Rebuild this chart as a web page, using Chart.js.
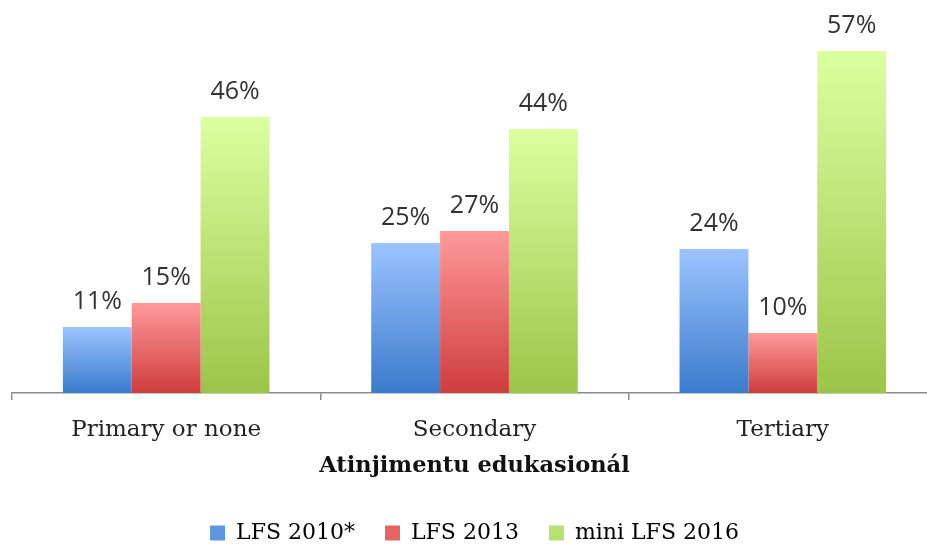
<!DOCTYPE html>
<html>
<head>
<meta charset="utf-8">
<script src="https://cdn.jsdelivr.net/npm/chart.js@4"></script>
<style>
  html, body { margin: 0; padding: 0; background: #fff; overflow: hidden; }
  #wrap { width: 960px; height: 544px; }
</style>
</head>
<body>
<div id="wrap"><canvas id="grafico" width="960" height="544"></canvas></div>
<script>
// ── DATOS ─────────────────────────────────────────────────────────────────────
var categorias = ['Primary or none', 'Secondary', 'Tertiary'];
var series     = ['LFS 2010*', 'LFS 2013', 'mini LFS 2016'];
var lfs2010    = [11, 25, 24];
var lfs2013    = [15, 27, 10];
var mini2016   = [46, 44, 57];
var tituloX    = 'Atinjimentu edukasionál';

// colores [arriba, abajo, leyenda]
var colores = [
  ['#9cc4ff', '#3a7bcc', '#5d95e0'],
  ['#ff9a9a', '#cf3c3c', '#e86464'],
  ['#dcffa0', '#9bc548', '#b6e070']
];

var SERIF = '"DejaVu Serif", serif';
var SANS  = '"Open Sans", sans-serif';

// ── DEGRADADO POR BARRA ──────────────────────────────────────────────────────
function degradado(idx) {
  return function(ctx) {
    var chart = ctx.chart;
    if (!chart.chartArea || ctx.type !== 'data') return colores[idx][1];
    var y = chart.scales.y;
    var top = y.getPixelForValue(ctx.raw);
    var base = y.getPixelForValue(0);
    if (!isFinite(top) || top >= base) return colores[idx][1];
    var g = chart.ctx.createLinearGradient(0, top, 0, base);
    g.addColorStop(0, colores[idx][0]);
    g.addColorStop(1, colores[idx][1]);
    return g;
  };
}

// ── ETIQUETAS SOBRE LAS BARRAS ───────────────────────────────────────────────
var etiquetas = {
  id: 'etiquetas',
  afterDatasetsDraw: function(chart) {
    var c = chart.ctx;
    c.save();
    c.font = '25px ' + SANS;
    c.fillStyle = '#333';
    c.textAlign = 'center';
    c.textBaseline = 'middle';
    chart.data.datasets.forEach(function(ds, i) {
      chart.getDatasetMeta(i).data.forEach(function(bar, j) {
        c.fillText(ds.data[j] + '%', bar.x, bar.y - 25);
      });
    });
    c.restore();
  }
};

function dataset(i, valores) {
  return {
    label: series[i],
    data: valores,
    backgroundColor: degradado(i),
    borderWidth: 0,
    categoryPercentage: 0.67,
    barPercentage: 1.0
  };
}

new Chart(document.getElementById('grafico').getContext('2d'), {
  type: 'bar',
  data: {
    labels: categorias,
    datasets: [dataset(0, lfs2010), dataset(1, lfs2013), dataset(2, mini2016)]
  },
  options: {
    responsive: false,
    animation: false,
    layout: { padding: { top: 33, left: 12, right: 23, bottom: -10 } },
    plugins: {
      legend: {
        position: 'bottom',
        labels: {
          font: { family: SERIF, size: 22 },
          color: '#222',
          boxWidth: 15,
          boxHeight: 15,
          padding: 30,
          generateLabels: function(chart) {
            return series.map(function(s, i) {
              return {
                text: s,
                fillStyle: colores[i][2],
                strokeStyle: colores[i][2],
                lineWidth: 0,
                datasetIndex: i
              };
            });
          }
        }
      },
      tooltip: { enabled: false }
    },
    scales: {
      x: {
        grid: { offset: true, drawOnChartArea: false, drawTicks: true, tickLength: 7, color: '#8c8c8c', lineWidth: 1.5 },
        border: { color: '#8c8c8c', width: 1.5 },
        ticks: { font: { family: SERIF, size: 23 }, color: '#222', padding: 16 },
        title: { display: true, text: tituloX, font: { family: SERIF, size: 22.5, weight: 'bold' }, color: '#111', padding: { top: 0, bottom: 12 } },
        afterFit: function(s) { s.height = 99; }
      },
      y: { display: false, min: 0, max: 60 }
    }
  },
  plugins: [etiquetas]
});
</script>
</body>
</html>
